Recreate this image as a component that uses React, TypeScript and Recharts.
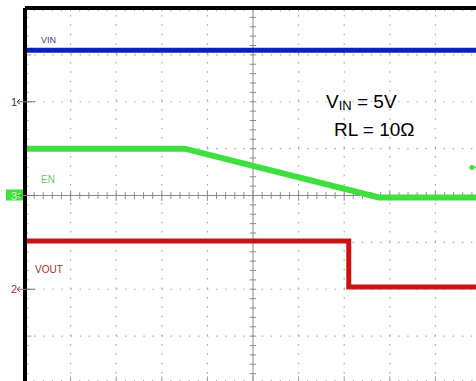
import React from 'react';
import { LineChart, Line, XAxis, YAxis, ReferenceLine, ReferenceDot } from 'recharts';

// scope screen in divisions: 10 across, 8 up
const VIN_T = [0, 10];
const VIN_V = [7.1, 7.1];
const EN_T = [0, 3.5, 7.76, 10];
const EN_V = [5.0, 5.0, 3.96, 3.96];
const VOUT_T = [0, 7.1, 7.1, 10];
const VOUT_V = [3.03, 3.03, 2.05, 2.05];

const X_DIVS = [0, 1, 2, 3, 4, 5, 6, 7, 8, 9, 10];
const Y_DIVS = [0, 1, 2, 3, 4, 5, 6, 7, 8];
const GROUND_MARKERS = [2, 4, 6];

const toPts = (t: number[], v: number[]) => t.map((x, i) => ({ t: x, v: v[i] }));
const vin = toPts(VIN_T, VIN_V);
const en = toPts(EN_T, EN_V);
const vout = toPts(VOUT_T, VOUT_V);

const minorX = Array.from({ length: 51 }, (_, i) => i * 0.2);
const minorY = Array.from({ length: 41 }, (_, i) => i * 0.2);

const MARKER_STYLE: Record<number, { label: string; color: string; box?: string }> = {
    6: { label: '1', color: '#3a3a4a' },
    4: { label: '3', color: '#c8ffc8', box: '#3ee03e' },
    2: { label: '2', color: '#a83030' },
};

function MarkerTick(props: any) {
    const { y, payload } = props;
    const m = MARKER_STYLE[payload.value];
    if (!m) return null;
    const arrow = m.box ? '#c8ffc8' : m.color;
    return (
        <g>
            {m.box && <rect x={6} y={y - 6} width={17} height={11} fill={m.box} />}
            <text x={14} y={y + 4} textAnchor="middle" fontSize={11} fontFamily="Arial, Liberation Sans" fill={m.color}>
                {m.label}
            </text>
            <path d={`M20 ${y - 2.5} L17 ${y} L20 ${y + 2.5}`} stroke={arrow} fill="none" strokeWidth={1} />
            <line x1={17} x2={35} y1={y} y2={y} stroke="#777" strokeWidth={1} />
        </g>
    );
}

const tickLen = 0.07;
const isMajor = (v: number) => Math.abs(v - Math.round(v)) < 1e-6;

export default function App() {
    return (
        <div style={{ position: 'absolute', top: 0, left: 0, width: 476, height: 381, overflow: 'hidden', background: '#fff' }}>
            <LineChart width={481} height={383} margin={{ top: 8, right: 0, bottom: 0, left: 0 }}>
                <XAxis dataKey="t" type="number" domain={[0, 10]} ticks={X_DIVS} hide />
                <YAxis
                    type="number"
                    domain={[0, 8]}
                    ticks={GROUND_MARKERS}
                    width={25}
                    axisLine={false}
                    tickLine={false}
                    tick={<MarkerTick />}
                    interval={0}
                />

                {/* dotted graticule */}
                {X_DIVS.filter((x) => x !== 0 && x !== 5).map((x) => (
                    <ReferenceLine key={`gx${x}`} x={x} stroke="#a8a8a8" strokeWidth={1.2} strokeDasharray="1.5 7.9" />
                ))}
                {Y_DIVS.filter((y) => y !== 4 && y !== 8).map((y) => (
                    <ReferenceLine key={`gy${y}`} y={y} stroke="#a8a8a8" strokeWidth={1.2} strokeDasharray="1.5 7.6" />
                ))}

                {/* center crosshair */}
                <ReferenceLine y={4} stroke="#8a8a8a" strokeWidth={1} />
                <ReferenceLine x={5} stroke="#8a8a8a" strokeWidth={1} />
                {minorX.map((x) => {
                    const l = isMajor(x) ? tickLen * 1.6 : tickLen;
                    return (
                        <ReferenceLine key={`hc${x}`} segment={[{ x, y: 4 - l }, { x, y: 4 + l }]} stroke="#8a8a8a" />
                    );
                })}
                {minorY.map((y) => (
                    <ReferenceLine key={`vc${y}`} segment={[{ x: 5 - tickLen, y }, { x: 5 + tickLen, y }]} stroke="#8a8a8a" />
                ))}
                {/* edge ticks */}
                {minorX.map((x) => (
                    <ReferenceLine key={`te${x}`} segment={[{ x, y: 8 }, { x, y: 8 - tickLen }]} stroke="#9a9a9a" />
                ))}
                {minorX.map((x) => {
                    const l = isMajor(x) ? tickLen * 2 : tickLen;
                    return <ReferenceLine key={`be${x}`} segment={[{ x, y: 0 }, { x, y: l }]} stroke="#9a9a9a" />;
                })}
                {minorY.map((y) => {
                    const l = isMajor(y) ? tickLen * 2 : tickLen;
                    return <ReferenceLine key={`le${y}`} segment={[{ x: 0, y }, { x: l, y }]} stroke="#9a9a9a" />;
                })}

                <Line data={vin} dataKey="v" type="linear" stroke="#0b22b8" strokeWidth={5} dot={false} isAnimationActive={false} />
                <Line data={en} dataKey="v" type="linear" stroke="#3ee03e" strokeWidth={6} dot={false} isAnimationActive={false} />
                <Line data={vout} dataKey="v" type="linear" stroke="#c81414" strokeWidth={5} dot={false} isAnimationActive={false} />

                {/* trigger level marker at right */}
                <ReferenceLine segment={[{ x: 9.8, y: 4.6 }, { x: 9.99, y: 4.6 }]} stroke="#3ee03e" strokeWidth={1.5} />
                <ReferenceDot x={9.8} y={4.6} r={2.5} fill="#3ee03e" stroke="none" />

                {/* screen border */}
                <ReferenceLine x={0} stroke="#000" strokeWidth={4} />
                <ReferenceLine y={8} stroke="#000" strokeWidth={4} />
            </LineChart>
            <svg width={476} height={381} style={{ position: 'absolute', top: 0, left: 0, pointerEvents: 'none' }}>
                <g fontFamily="Arial, Liberation Sans, sans-serif">
                    <text x={41} y={43} fontSize={9} fill="#3a3a80">VIN</text>
                    <text x={41} y={183} fontSize={10} fill="#66cc66">EN</text>
                    <text x={35} y={273} fontSize={10} fill="#a03030">VOUT</text>
                    <text x={326} y={108} fontSize={19} fill="#000">
                        V<tspan fontSize={13} dy={2}>IN</tspan>
                        <tspan dy={-2}> = 5V</tspan>
                    </text>
                    <text x={334} y={136} fontSize={19} fill="#000">RL = 10Ω</text>
                </g>
            </svg>
        </div>
    );
}
